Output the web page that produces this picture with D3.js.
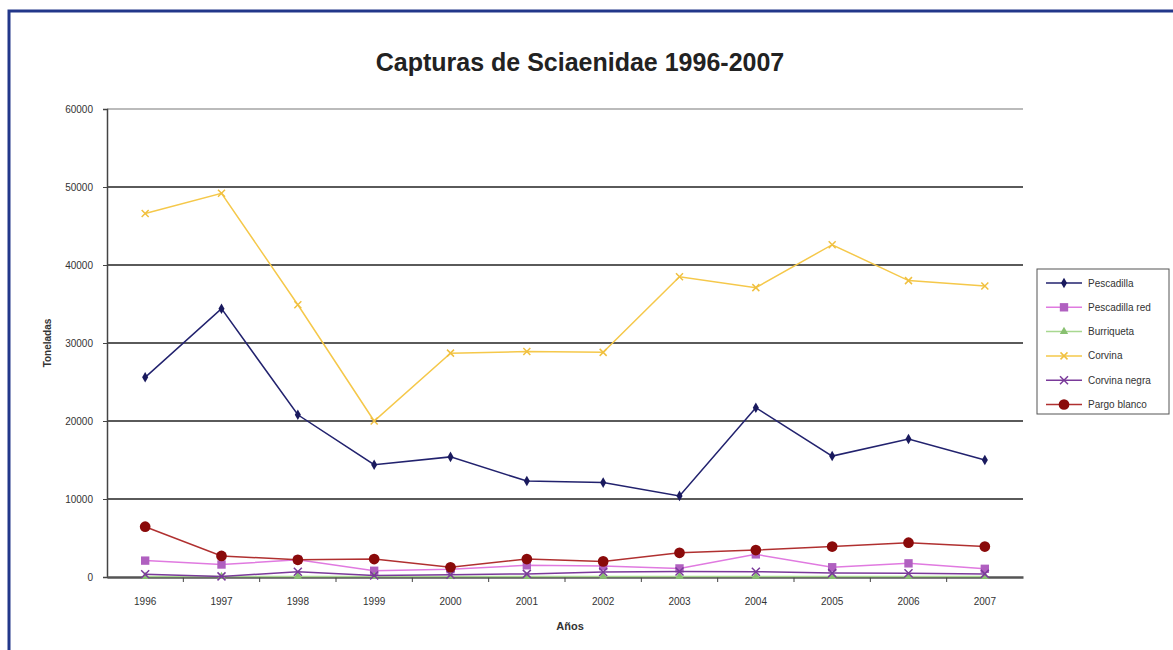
<!DOCTYPE html>
<html><head><meta charset="utf-8">
<script src="https://cdn.jsdelivr.net/npm/d3@7"></script>
<style>body{margin:0;background:#fff;}svg{display:block;font-family:"Liberation Sans",Arial,sans-serif;}</style>
</head><body><svg id="c" width="1173" height="650"></svg>
<script>
const years = ["1996","1997","1998","1999","2000","2001","2002","2003","2004","2005","2006","2007"];
const pescadilla   = [25600,34400,20800,14400,15400,12300,12100,10400,21700,15500,17700,15000];
const pescadillaRed= [2100,1600,2200,800,1000,1500,1400,1100,2900,1250,1750,1050];
const burriqueta   = [60,50,80,60,70,60,70,80,70,60,70,60];
const corvina      = [46600,49200,34900,20000,28700,28900,28800,38500,37100,42600,38000,37300];
const corvinaNegra = [350,80,680,200,300,400,650,700,680,500,470,400];
const pargoBlanco  = [6450,2700,2200,2300,1250,2300,2000,3100,3450,3900,4400,3900];
const yTicks = [0,10000,20000,30000,40000,50000,60000];
const seriesNames = ["Pescadilla","Pescadilla red","Burriqueta","Corvina","Corvina negra","Pargo blanco"];

const series = [
  {name:seriesNames[0], values:pescadilla,    line:"#22226e", fill:"#1a1a5e", sym:d3.symbolDiamond, size:32},
  {name:seriesNames[1], values:pescadillaRed, line:"#e07ae0", fill:"#b060c0", sym:d3.symbolSquare,  size:70},
  {name:seriesNames[2], values:burriqueta,    line:"#a8d890", fill:"#88c070", sym:d3.symbolTriangle,size:30},
  {name:seriesNames[3], values:corvina,       line:"#f5c84a", fill:"#f0c040", sym:"x",             size:3.5},
  {name:seriesNames[4], values:corvinaNegra,  line:"#7a3a9a", fill:"#7a3a9a", sym:"x",             size:4},
  {name:seriesNames[5], values:pargoBlanco,   line:"#b03030", fill:"#8a0a0a", sym:d3.symbolCircle,  size:90}
];

const svg = d3.select("#c");
svg.append("rect").attr("x",9).attr("y",11).attr("width",1180).attr("height",660)
  .attr("fill","#fff").attr("stroke","#22378a").attr("stroke-width",3);

const L=107, R=1023, T=109, B=577;
const x = d3.scaleBand().domain(years).range([L,R]);
const y = d3.scaleLinear().domain([0,60000]).range([B,T]);

svg.append("g").selectAll("line").data(yTicks.filter(d=>d>0)).join("line")
  .attr("x1",L).attr("x2",R).attr("y1",d=>y(d)).attr("y2",d=>y(d))
  .attr("stroke",d=>d===60000?"#bbb":"#5a5a5a").attr("stroke-width",2);

const ya = svg.append("g").attr("transform",`translate(${L},0)`)
  .call(d3.axisLeft(y).tickValues(yTicks).tickSize(4).tickPadding(10).tickFormat(d3.format("d")));
ya.select(".domain").attr("stroke","#444").attr("stroke-width",1.5);
ya.selectAll(".tick line").attr("stroke","#444");
ya.selectAll("text").attr("font-size",10).attr("fill","#333");

const xa = svg.append("g").attr("transform",`translate(0,${B})`)
  .call(d3.axisBottom(x).tickSize(0).tickPadding(21));
xa.select(".domain").attr("stroke","#555").attr("stroke-width",2.5);
xa.selectAll("text").attr("font-size",10).attr("fill","#333");
svg.append("g").selectAll("line").data(years.slice(1)).join("line")
  .attr("x1",d=>x(d)).attr("x2",d=>x(d)).attr("y1",B).attr("y2",B+5)
  .attr("stroke","#444");

svg.append("text").attr("x",580).attr("y",71).attr("text-anchor","middle")
  .attr("font-size",25).attr("font-weight","bold").attr("fill","#222").text("Capturas de Sciaenidae 1996-2007");
svg.append("text").attr("x",570).attr("y",630).attr("text-anchor","middle")
  .attr("font-size",11).attr("font-weight","bold").attr("fill","#333").text("Años");
svg.append("text").attr("transform","translate(51,343) rotate(-90)").attr("text-anchor","middle")
  .attr("font-size",10).attr("font-weight","bold").attr("fill","#333").text("Toneladas");

const cx = d => x(d)+x.bandwidth()/2;
const line = d3.line().x((v,i)=>cx(years[i])).y(v=>y(v));

function drawMarker(g, s, px, py){
  if(s.sym==="x"){
    const k=s.size;
    g.append("path").attr("d",`M${px-k},${py-k}L${px+k},${py+k}M${px-k},${py+k}L${px+k},${py-k}`)
      .attr("stroke",s.fill).attr("stroke-width",1.5).attr("fill","none");
  } else {
    g.append("path").attr("d",d3.symbol().type(s.sym).size(s.size)()).attr("transform",`translate(${px},${py})`)
      .attr("fill",s.fill);
  }
}

series.forEach(s=>{
  const g = svg.append("g");
  g.append("path").datum(s.values).attr("d",line).attr("fill","none")
    .attr("stroke",s.line).attr("stroke-width",1.5);
  s.values.forEach((v,i)=>drawMarker(g,s,cx(years[i]),y(v)));
});

const lg = svg.append("g");
lg.append("rect").attr("x",1037).attr("y",269).attr("width",132).attr("height",145)
  .attr("fill","#fff").attr("stroke","#555").attr("stroke-width",1);
series.forEach((s,i)=>{
  const yy = 283 + i*24.3;
  lg.append("line").attr("x1",1046).attr("x2",1082).attr("y1",yy).attr("y2",yy)
    .attr("stroke",s.line).attr("stroke-width",1.5);
  drawMarker(lg,s,1064,yy);
  lg.append("text").attr("x",1088).attr("y",yy+3.5).attr("font-size",10).attr("fill","#333").text(s.name);
});
</script></body></html>
